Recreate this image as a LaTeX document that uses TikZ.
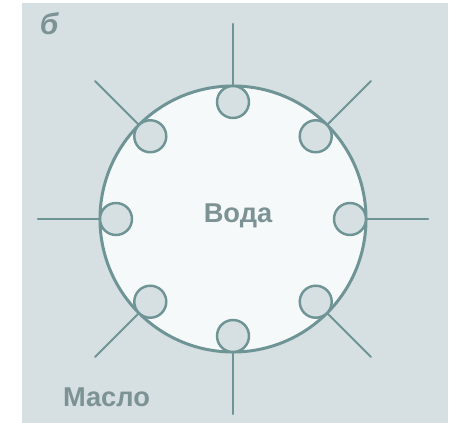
\documentclass[tikz,border=0pt]{standalone}
\usepackage{fontspec}
\setmainfont{Liberation Sans}
\usepackage{tikz}
\usetikzlibrary{calc}

\definecolor{oilgray}{HTML}{D6DFE1}
\definecolor{waterwhite}{HTML}{F6F9F9}
\definecolor{linegray}{HTML}{6F9496}
\definecolor{textgray}{HTML}{7C9294}

\begin{document}
\begin{tikzpicture}[line cap=round]
    \useasboundingbox (0, 0) rectangle (9, 8.46);
    \coordinate (O) at (4.66, 4.08);
    \def\R{2.66}
    \def\r{0.32}
    \def\L{3.9}

    % Oil background
    \fill[oilgray] (0.44, 0) rectangle (8.96, 8.40);

    % Water drop
    \draw[linegray, line width=1.7pt, fill=waterwhite] (O) circle (\R);

    % Surfactant molecules
    \foreach \a in {0, 45, ..., 315} {
        \draw[linegray, line width=1.2pt] ($(O)+(\a:\R)$) -- ($(O)+(\a:\L)$);
        \draw[linegray, line width=1.4pt, fill=oilgray] ($(O)+(\a:\R-\r)$) circle (\r);
    }

    % Labels
    \node[text=textgray, font=\bfseries\fontsize{15.5}{17}\selectfont] (water) at ($(O)+(0.1, 0.06)$) {Вода};
    \node[text=textgray, font=\bfseries\fontsize{15.5}{17}\selectfont] (oil) at (2.13, 0.52) {Масло};
    \node[text=textgray, font=\bfseries\itshape\fontsize{17}{18}\selectfont] (tag) at (0.98, 7.98) {б};
\end{tikzpicture}
\end{document}
